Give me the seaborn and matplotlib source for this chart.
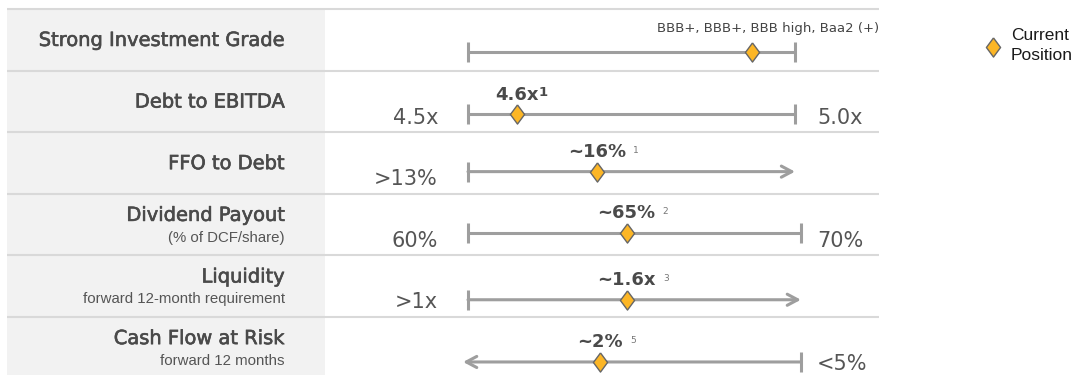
import numpy as np
import pandas as pd
import matplotlib
matplotlib.use("Agg")
import matplotlib.pyplot as plt
from matplotlib.patches import Rectangle
import matplotlib.patheffects as pe
import seaborn as sns

# ---------------- data ----------------
metrics = ["Strong Investment Grade", "Debt to EBITDA", "FFO to Debt",
           "Dividend Payout", "Liquidity", "Cash Flow at Risk"]
subtitles = ["", "", "", "(% of DCF/share)", "forward 12-month requirement", "forward 12 months"]
low_labels = ["", "4.5x", ">13%", "60%", ">1x", ""]
high_labels = ["", "5.0x", "", "70%", "", "<5%"]
value_labels = ["", "4.6x", "~16%", "~65%", "~1.6x", "~2%"]
footnotes = ["", "1", "1", "2", "3", "5"]
rating_note = "BBB+, BBB+, BBB high, Baa2 (+)"
# current position along each target range (0 = low end, 1 = high end)
current_pos = [0.87, 0.15, 0.394, 0.485, 0.485, 0.404]
range_hi = [1.0, 1.0, 1.0, 1.018, 1.018, 1.018]
left_end = ["tick", "tick", "tick", "tick", "tick", "arrow"]
right_end = ["tick", "tick", "arrow", "tick", "arrow", "tick"]

# ---------------- layout / style ----------------
W, H = 1088, 375
X0, XW = 468, 327          # pixel of range start, pixel width of range
ROW_TOP, ROW_H = 9, 61.6
bar_off = [0.70, 0.71, 0.64, 0.64, 0.72, 0.73]
BAR_C = "#9e9e9e"
DIA_C = "#fcb626"
DIA_E = "#666666"
TXT_C = "#555555"
LAB_C = "#4a4a4a"
SUB_FONT = ["Liberation Sans", "DejaVu Sans"]
heavier = [pe.withStroke(linewidth=0.45, foreground=LAB_C)]

def fx(px):
    return (px - X0) / XW

sns.set_theme(style="white")
plt.rcParams["font.family"] = ["DejaVu Sans"]

fig = plt.figure(figsize=(W / 100, H / 100), dpi=100)
ax = fig.add_axes([0, 0, 1, 1])
ax.set_xlim(fx(0), fx(W))
ax.set_ylim((H - ROW_TOP) / ROW_H, -ROW_TOP / ROW_H)
ax.axis("off")

n = len(metrics)
df = pd.DataFrame({
    "metric": metrics,
    "pos": current_pos,
    "hi": range_hi,
    "y": [i + bar_off[i] for i in range(n)],
})

# left grey label panel and separators
ax.add_patch(Rectangle((fx(7), 0), fx(325) - fx(7), n, facecolor="#f2f2f2",
                       edgecolor="none", zorder=0))
ax.hlines(np.arange(n), fx(7), fx(879), color="#d9d9d9", lw=1.5, zorder=1)

# range bars
arrow_style = "->,head_length=0.75,head_width=0.4"
for i, r in df.iterrows():
    lo_x = 0.0 if left_end[i] == "tick" else -0.015
    hi_x = r["hi"]
    if right_end[i] == "arrow":
        ax.annotate("", xy=(hi_x, r["y"]), xytext=(lo_x, r["y"]),
                    arrowprops=dict(arrowstyle=arrow_style, color=BAR_C, lw=2.2,
                                    shrinkA=0, shrinkB=0, mutation_scale=10), zorder=2)
    elif left_end[i] == "arrow":
        ax.annotate("", xy=(lo_x, r["y"]), xytext=(hi_x, r["y"]),
                    arrowprops=dict(arrowstyle=arrow_style, color=BAR_C, lw=2.2,
                                    shrinkA=0, shrinkB=0, mutation_scale=10), zorder=2)
    else:
        ax.plot([lo_x, hi_x], [r["y"], r["y"]], color=BAR_C, lw=2.2,
                solid_capstyle="butt", zorder=2)
    if left_end[i] == "tick":
        ax.plot([lo_x], [r["y"]], marker="|", ms=15, mew=2.2, color=BAR_C, zorder=2)
    if right_end[i] == "tick":
        ax.plot([hi_x], [r["y"]], marker="|", ms=15, mew=2.2, color=BAR_C, zorder=2)

# current position diamonds
diamond = [(0, 1), (0.74, 0), (0, -1), (-0.74, 0), (0, 1)]
sns.scatterplot(data=df, x="pos", y="y", marker=diamond, s=190, color=DIA_C,
                edgecolor=DIA_E, linewidth=1.0, zorder=4, ax=ax,
                label="Current\nPosition", legend=False)

# left labels
lab_x = fx(285)
for i in range(n):
    if subtitles[i]:
        ax.text(lab_x, i + 0.44, metrics[i], ha="right", va="baseline",
                fontsize=14, color=LAB_C, path_effects=heavier)
        ax.text(lab_x, i + 0.78, subtitles[i], ha="right", va="baseline",
                fontsize=10.8, color=TXT_C, family=SUB_FONT)
    else:
        ax.text(lab_x, i + 0.60, metrics[i], ha="right", va="baseline",
                fontsize=14, color=LAB_C, path_effects=heavier)

# endpoint labels
for i in range(n):
    if low_labels[i]:
        ax.text(fx(438), i + 0.86, low_labels[i], ha="right", va="baseline",
                fontsize=15, color=TXT_C)
    if high_labels[i]:
        ax.text(fx(817), i + 0.86, high_labels[i], ha="left", va="baseline",
                fontsize=15, color=TXT_C)

# value labels with footnotes
for i, r in df.iterrows():
    if not value_labels[i]:
        continue
    t = ax.text(r["pos"], r["y"] - 0.24, value_labels[i], ha="center", va="baseline",
                fontsize=13, fontweight="bold", color=LAB_C)
    if i == 1:
        ax.annotate(footnotes[i], xy=(1, 1), xycoords=t, xytext=(0, 0),
                    textcoords="offset points", ha="left", va="top",
                    fontsize=9.5, fontweight="bold", color=LAB_C)
    else:
        ax.annotate(footnotes[i], xy=(1, 1), xycoords=t, xytext=(5, -2),
                    textcoords="offset points", ha="left", va="top",
                    fontsize=6.5, color="#777777")

# rating note
ax.text(fx(879), 0.37, rating_note, ha="right", va="baseline", fontsize=9.5,
        color="#444444")

# legend
leg = ax.legend(loc="upper left", bbox_to_anchor=(984 / W, 1 - 28 / H),
                bbox_transform=fig.transFigure, frameon=False,
                handletextpad=0.55, borderpad=0, borderaxespad=0,
                handlelength=1.0, prop={"family": SUB_FONT, "size": 12.5})
for t in leg.get_texts():
    t.set_color("#1a1a1a")
    t.set_linespacing(1.45)

fig.savefig("out.png", dpi=100)
